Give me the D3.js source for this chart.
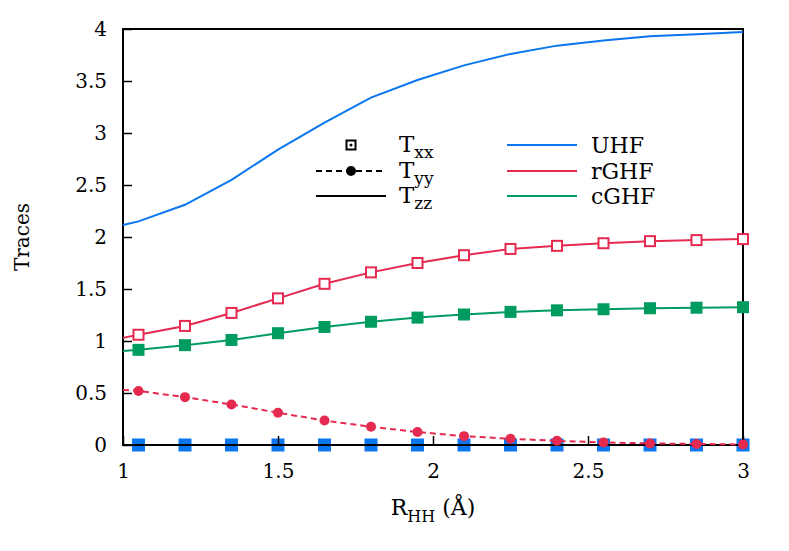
<!DOCTYPE html>
<html>
<head>
<meta charset="utf-8">
<script src="https://cdn.jsdelivr.net/npm/d3@7"></script>
<style>
  body { margin: 0; background: #fff; }
  text { font-family: "DejaVu Serif", serif; fill: #000; }
</style>
</head>
<body>
<div id="chart"></div>
<script>
// bond length R_HH (Å); first point only starts the lines, the rest carry markers
const rHH = [1.0, 1.05, 1.2, 1.35, 1.5, 1.65, 1.8, 1.95, 2.1, 2.25, 2.4, 2.55, 2.7, 2.85, 3.0];
const uhfTzz = [2.115, 2.15, 2.31, 2.55, 2.84, 3.1, 3.34, 3.51, 3.65, 3.76, 3.84, 3.89, 3.93, 3.95, 3.97];
const uhfTxx = [0, 0, 0, 0, 0, 0, 0, 0, 0, 0, 0, 0, 0, 0, 0];
const uhfTyy = [0, 0, 0, 0, 0, 0, 0, 0, 0, 0, 0, 0, 0, 0, 0];
const rghfTxx = [1.03, 1.06, 1.145, 1.27, 1.41, 1.55, 1.66, 1.75, 1.825, 1.885, 1.915, 1.94, 1.96, 1.97, 1.98];
const rghfTyy = [0.53, 0.52, 0.46, 0.39, 0.31, 0.235, 0.175, 0.125, 0.085, 0.06, 0.04, 0.025, 0.015, 0.01, 0.005];
const cghfTxx = [0.905, 0.915, 0.96, 1.01, 1.075, 1.135, 1.185, 1.225, 1.255, 1.28, 1.295, 1.305, 1.315, 1.32, 1.325];

const xTicks = [1, 1.5, 2, 2.5, 3];
const yTicks = [0, 0.5, 1, 1.5, 2, 2.5, 3, 3.5, 4];

const blue = "#0a76f0", red = "#e5294f", green = "#009b5f";

const w = 789, h = 551;
const m = {left: 123, right: 46, top: 29, bottom: 106};

let svg = d3.select("#chart")
  .append("svg")
  .attr("width", w)
  .attr("height", h);

let x = d3.scaleLinear().domain([1, 3]).range([m.left, w - m.right]);
let y = d3.scaleLinear().domain([0, 4]).range([h - m.bottom, m.top]);

let line = d3.line().x((d) => x(d[0])).y((d) => y(d[1]));
const pts = (vals) => rHH.map((r, i) => [r, vals[i]]);
const marks = (vals) => pts(vals).slice(1);

// UHF zero traces sit under the frame
svg.append("path")
  .attr("d", line(pts(uhfTyy)))
  .attr("fill", "none")
  .attr("stroke", blue)
  .attr("stroke-width", 2)
  .attr("stroke-dasharray", "6,4");
svg.append("g")
  .selectAll("rect")
  .data(marks(uhfTxx))
  .join("rect")
  .attr("x", (d) => x(d[0]) - 6.5)
  .attr("y", (d) => y(d[1]) - 6.5)
  .attr("width", 13)
  .attr("height", 13)
  .attr("fill", blue);

// frame and ticks
svg.append("rect")
  .attr("x", m.left)
  .attr("y", m.top)
  .attr("width", w - m.left - m.right)
  .attr("height", h - m.top - m.bottom)
  .attr("fill", "none")
  .attr("stroke", "#000")
  .attr("stroke-width", 2);

let yAxis = svg.append("g")
  .attr("transform", `translate(${m.left},0)`)
  .call(d3.axisLeft(y).tickValues(yTicks).tickSizeInner(-9).tickSizeOuter(0).tickPadding(16).tickFormat(d3.format("")));
let xAxis = svg.append("g")
  .attr("transform", `translate(0,${h - m.bottom})`)
  .call(d3.axisBottom(x).tickValues(xTicks).tickSizeInner(-9).tickSizeOuter(0).tickPadding(19).tickFormat(d3.format("")));
[xAxis, yAxis].forEach((a) => {
  a.select(".domain").remove();
  a.selectAll(".tick line").attr("stroke", "#000").attr("stroke-width", 1.5);
  a.selectAll(".tick text")
    .style("font-family", "DejaVu Serif, serif")
    .attr("font-size", 20)
    .attr("fill", "#000");
});

// data curves
svg.append("path")
  .attr("d", line(pts(uhfTzz)))
  .attr("fill", "none")
  .attr("stroke", blue)
  .attr("stroke-width", 2);
svg.append("path")
  .attr("d", line(pts(rghfTxx)))
  .attr("fill", "none")
  .attr("stroke", red)
  .attr("stroke-width", 2);
svg.append("path")
  .attr("d", line(pts(cghfTxx)))
  .attr("fill", "none")
  .attr("stroke", green)
  .attr("stroke-width", 2);
svg.append("path")
  .attr("d", line(pts(rghfTyy)))
  .attr("fill", "none")
  .attr("stroke", red)
  .attr("stroke-width", 2)
  .attr("stroke-dasharray", "6,4");

svg.append("g")
  .selectAll("rect")
  .data(marks(rghfTxx))
  .join("rect")
  .attr("x", (d) => x(d[0]) - 5)
  .attr("y", (d) => y(d[1]) - 5)
  .attr("width", 10)
  .attr("height", 10)
  .attr("fill", "#fff")
  .attr("stroke", red)
  .attr("stroke-width", 2);
svg.append("g")
  .selectAll("rect")
  .data(marks(cghfTxx))
  .join("rect")
  .attr("x", (d) => x(d[0]) - 6)
  .attr("y", (d) => y(d[1]) - 6)
  .attr("width", 12)
  .attr("height", 12)
  .attr("fill", green);
svg.append("g")
  .selectAll("circle")
  .data(marks(rghfTyy))
  .join("circle")
  .attr("cx", (d) => x(d[0]))
  .attr("cy", (d) => y(d[1]))
  .attr("r", 5)
  .attr("fill", red);

// axis titles
svg.append("text")
  .attr("transform", `translate(29,${(m.top + h - m.bottom) / 2}) rotate(-90)`)
  .attr("text-anchor", "middle")
  .attr("font-size", 20)
  .text("Traces");
let xl = svg.append("text")
  .attr("x", (m.left + w - m.right) / 2)
  .attr("y", 515)
  .attr("text-anchor", "middle")
  .attr("font-size", 22);
xl.append("tspan").text("R");
xl.append("tspan").attr("dy", 7).attr("font-size", 16).text("HH");
xl.append("tspan").attr("dy", -7).text(" (Å)");

// legend: components
const compRows = [
  {sub: "xx", y: 145},
  {sub: "yy", y: 171},
  {sub: "zz", y: 196}
];
let lg = svg.append("g");
lg.append("rect")
  .attr("x", 346.5).attr("y", compRows[0].y - 4.5)
  .attr("width", 9).attr("height", 9)
  .attr("fill", "none").attr("stroke", "#000").attr("stroke-width", 2);
lg.append("circle")
  .attr("cx", 351).attr("cy", compRows[0].y).attr("r", 1.5).attr("fill", "#000");
lg.append("line")
  .attr("x1", 316).attr("x2", 386)
  .attr("y1", compRows[1].y).attr("y2", compRows[1].y)
  .attr("stroke", "#000").attr("stroke-width", 2).attr("stroke-dasharray", "6,4");
lg.append("circle")
  .attr("cx", 351).attr("cy", compRows[1].y).attr("r", 5).attr("fill", "#000");
lg.append("line")
  .attr("x1", 316).attr("x2", 386)
  .attr("y1", compRows[2].y).attr("y2", compRows[2].y)
  .attr("stroke", "#000").attr("stroke-width", 2);
compRows.forEach((r) => {
  let t = lg.append("text")
    .attr("x", 399)
    .attr("y", r.y + 7)
    .attr("font-size", 23);
  t.append("tspan").text("T");
  t.append("tspan").attr("dy", 6).attr("font-size", 17).text(r.sub);
});

// legend: methods
const methodRows = [
  {name: "UHF", color: blue, y: 145},
  {name: "rGHF", color: red, y: 171},
  {name: "cGHF", color: green, y: 196}
];
methodRows.forEach((r) => {
  lg.append("line")
    .attr("x1", 507).attr("x2", 577)
    .attr("y1", r.y).attr("y2", r.y)
    .attr("stroke", r.color).attr("stroke-width", 2);
  lg.append("text")
    .attr("x", 591)
    .attr("y", r.y + 8)
    .attr("font-size", 22)
    .text(r.name);
});
</script>
</body>
</html>
